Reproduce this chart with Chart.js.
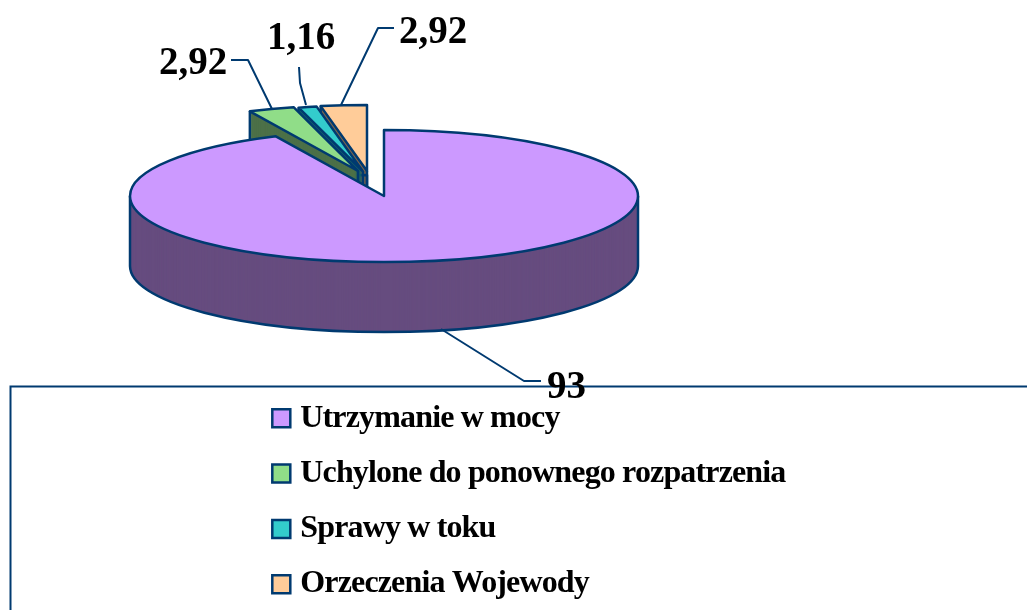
<!DOCTYPE html>
<html><head><meta charset="utf-8">
<style>html,body{margin:0;padding:0;background:#fff}canvas{display:block}</style>
<script src="https://cdn.jsdelivr.net/npm/chart.js@4"></script>
</head><body><canvas id="c" width="1027" height="610"></canvas>
<script>
const categories = ['Utrzymanie w mocy','Uchylone do ponownego rozpatrzenia','Sprawy w toku','Orzeczenia Wojewody'];
const values = [93, 2.92, 1.16, 2.92];
const valueLabels = ['93','2,92','1,16','2,92'];
const topColors = ['#CC99FF','#90DD88','#33CCCC','#FFCC99'];
const sideColors = ['#664C7F','#4C7048','#196666','#7F664C'];

const NAVY = '#003A70';
const LINE = 2.5;
const K = 66/254, DEPTH = 70;
// apex of each slice on screen
const apex = [[384,196],[358,171],[363,171.5],[367,171]];
// value label anchors and leader polylines
const labelPos = [[547,388],[159,64],[267,39],[399,33]];
const leaders = [
  [[441,329],[524,381],[541,381]],
  [[272,109],[248,60],[231,60]],
  [[306,105],[300,83],[299,67]],
  [[341,105],[378,28],[394,28]]
];

const pie3d = {
  id:'pie3d',
  beforeDraw(chart){
    chart.ctx.letterSpacing = '-0.85px';
  },
  beforeDatasetsDraw(chart){
    const ctx = chart.ctx;
    ctx.save();
    ctx.strokeStyle = NAVY; ctx.lineWidth = 2;
    ctx.beginPath();
    ctx.moveTo(10.5,612); ctx.lineTo(10.5,386.5); ctx.lineTo(1029,386.5);
    ctx.stroke();
    ctx.restore();
  },
  beforeDatasetDraw(chart,args){
    const ctx = chart.ctx;
    const arcs = args.meta.data;
    const drawAt = (i,dy,color)=>{
      const arc = arcs[i], o = arc.options;
      arc.options = Object.assign({},o,{backgroundColor:color,borderWidth:0});
      ctx.save();
      ctx.translate(apex[i][0],apex[i][1]+dy);
      ctx.scale(1,K);
      ctx.translate(-arc.x,-arc.y);
      arc.draw(ctx);
      ctx.restore();
      arc.options = o;
    };
    const outline = (i,dy)=>{
      const arc = arcs[i], R = arc.outerRadius, [cx,cy]=apex[i];
      ctx.beginPath();
      ctx.moveTo(cx,cy+dy);
      ctx.ellipse(cx,cy+dy,R,R*K,0,arc.startAngle,arc.endAngle);
      ctx.closePath();
      ctx.stroke();
    };
    const edge = (i,angle)=>{
      const R = arcs[i].outerRadius,[cx,cy]=apex[i];
      const x = cx+R*Math.cos(angle), y = cy+R*K*Math.sin(angle);
      ctx.beginPath(); ctx.moveTo(x,y); ctx.lineTo(x,y+DEPTH); ctx.stroke();
    };
    ctx.save();
    ctx.strokeStyle = NAVY; ctx.lineWidth = LINE; ctx.lineJoin='round';
    // back slices first, the big slice last so it hides their walls
    for(const i of [3,2,1,0]){
      const arc = arcs[i];
      for(let d=DEPTH;d>=1;d--) drawAt(i,d,sideColors[i]);
      if(i===0){
        const R = arc.outerRadius,[cx,cy]=apex[0];
        ctx.beginPath();
        ctx.ellipse(cx,cy+DEPTH,R,R*K,0,0,Math.PI);
        ctx.stroke();
        edge(0,0); edge(0,Math.PI);
      }else{
        outline(i,DEPTH);
        edge(i,arc.startAngle);
        ctx.beginPath(); ctx.moveTo(apex[i][0],apex[i][1]); ctx.lineTo(apex[i][0],apex[i][1]+DEPTH); ctx.stroke();
      }
      drawAt(i,0,topColors[i]);
      outline(i,0);
    }
    ctx.restore();
    return false;
  },
  afterDraw(chart){
    const ctx = chart.ctx;
    ctx.letterSpacing = '0px';
    ctx.save();
    ctx.strokeStyle = NAVY; ctx.lineWidth = 2; ctx.lineJoin='round';
    leaders.forEach(l=>{
      ctx.beginPath();
      l.forEach((p,j)=> j? ctx.lineTo(p[0],p[1]) : ctx.moveTo(p[0],p[1]));
      ctx.stroke();
    });
    ctx.fillStyle='#000';
    ctx.font='bold 39px "Liberation Serif"';
    ctx.textAlign='left'; ctx.textBaseline='middle';
    valueLabels.forEach((t,i)=>ctx.fillText(t,labelPos[i][0],labelPos[i][1]));
    ctx.restore();
  }
};

new Chart(document.getElementById('c'),{
  type:'pie',
  data:{labels:categories,datasets:[{
    data:values,
    backgroundColor:topColors,
    borderColor:NAVY,
    borderWidth:2.5
  }]},
  options:{
    responsive:false,
    animation:false,
    events:[],
    radius:254,
    layout:{padding:{left:255,top:379,bottom:-40,right:-350}},
    plugins:{
      tooltip:{enabled:false},
      title:{display:false},
      legend:{
        position:'left',
        align:'start',
        labels:{
          usePointStyle:true,pointStyle:'rect',
          boxWidth:6,boxHeight:18,padding:23.3,
          color:'#000',
          font:{family:'"Liberation Serif"',weight:'bold',size:32}
        }
      }
    }
  },
  plugins:[pie3d]
});
</script></body></html>
